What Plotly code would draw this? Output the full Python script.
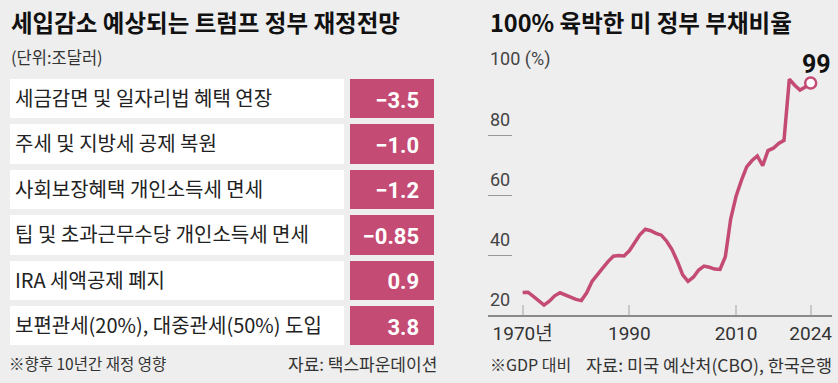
import plotly.graph_objects as go

# ---------------- data ----------------
items = ["세금감면 및 일자리법 혜택 연장", "주세 및 지방세 공제 복원", "사회보장혜택 개인소득세 면세",
         "팁 및 초과근무수당 개인소득세 면세", "IRA 세액공제 폐지", "보편관세(20%), 대중관세(50%) 도입"]
impact = [-3.5, -1.0, -1.2, -0.85, 0.9, 3.8]

years = list(range(1970, 2025))
debt = [27.5, 27.6, 26.2, 24.6, 23.3, 24.6, 26.4, 27.4, 26.6, 25.7,
        25.2, 24.8, 27.4, 31.2, 33.6, 35.6, 37.8, 39.6, 39.8, 39.7,
        41.4, 44.2, 46.8, 48.6, 48.1, 47.2, 46.6, 44.6, 41.8, 37.9,
        33.4, 31.2, 32.6, 35.0, 36.3, 35.9, 35.3, 35.2, 39.4, 52.0,
        59.5, 64.8, 69.4, 71.5, 73.0, 69.8, 74.8, 75.6, 77.2, 78.2,
        98.6, 96.6, 95.0, 96.0, 97.3]
last_label = "99"
x_tickvals = [1970, 1990, 2010, 2024]
x_ticktext = ["1970년", "1990", "2010", "2024"]
y_tickvals = [100, 80, 60, 40, 20]
y_ticktext = ["100 (%)", "80", "60", "40", "20"]

# ---------------- style ----------------
W, H = 838, 383
BG = "#eeeeee"
PINK = "#c44b73"
KFONT = "Noto Sans CJK KR, sans-serif"
NFONT = "Liberation Sans Narrow, Roboto, Noto Sans CJK KR, sans-serif"
CLEAR = "rgba(0,0,0,0)"


def px(x):
    return x / W


def py(y):
    return (H - y) / H


def fmt(v):
    s = f"{v:.2f}"
    if s.endswith("0"):
        s = s[:-1]
    return s.replace("-", "\u2212")


n = len(items)
fig = go.Figure()

# ---- left table: boxes ----
fig.add_trace(go.Table(
    domain=dict(x=[px(7), px(438)], y=[py(350), py(75)]),
    columnwidth=[341, 90],
    header=dict(values=["", ""], height=1, fill_color=BG, line=dict(color=BG, width=0)),
    cells=dict(
        values=[[""] * n, [""] * n],
        fill_color=[["white"] * n, [PINK] * n],
        line=dict(color=BG, width=6),
        height=45.4,
    ),
))
# ---- left table: text layer (vertically centred in the boxes) ----
fig.add_trace(go.Table(
    domain=dict(x=[px(7), px(438)], y=[py(357), py(82)]),
    columnwidth=[341, 90],
    header=dict(values=["", ""], height=1, fill_color=CLEAR, line=dict(color=CLEAR, width=0)),
    cells=dict(
        values=[items, [fmt(v) + "\u00a0\u2009" for v in impact]],
        fill_color=CLEAR,
        line=dict(color=CLEAR, width=0),
        align=["left", "right"],
        height=45.4,
        font=dict(family=[KFONT, NFONT], size=[20, 22], color=[["#222222"] * n, ["white"] * n],
                  weight=["normal", "bold"]),
    ),
))

# ---- right line chart ----
fig.add_trace(go.Scatter(x=years, y=debt, mode="lines", line=dict(color=PINK, width=3.5),
                         hoverinfo="skip", showlegend=False))
fig.add_trace(go.Scatter(x=[years[-1]], y=[debt[-1]], mode="markers",
                         marker=dict(size=11, color="white", line=dict(color=PINK, width=2.5)),
                         hoverinfo="skip", showlegend=False, cliponaxis=False))

annotations = []
# y labels (above short tick lines)
for v, t in zip(y_tickvals, y_ticktext):
    annotations.append(dict(x=px(488), xref="paper", y=v, yref="y", text=t, showarrow=False,
                            xanchor="left", yanchor="bottom", yshift=3,
                            font=dict(family=NFONT, size=18, color="#444444")))
annotations.append(dict(x=years[-1], y=debt[-1], xref="x", yref="y", text=f"<b>{last_label}</b>",
                        showarrow=False, xanchor="center", yanchor="bottom", xshift=6, yshift=2,
                        font=dict(family=NFONT, size=25, color="#111111")))

# titles and notes
annotations += [
    dict(x=px(9), y=py(22), text="<b>세입감소 예상되는 트럼프 정부 재정전망</b>", xanchor="left", yanchor="middle",
         font=dict(family=KFONT, size=23.5, color="#111111")),
    dict(x=px(9), y=py(57), text="(단위:조달러)", xanchor="left", yanchor="middle",
         font=dict(family=KFONT, size=16.5, color="#333333")),
    dict(x=px(7), y=py(363), text="※향후 10년간 재정 영향", xanchor="left", yanchor="middle",
         font=dict(family=KFONT, size=15.5, color="#333333")),
    dict(x=px(439), y=py(363), text="자료: 택스파운데이션", xanchor="right", yanchor="middle",
         font=dict(family=KFONT, size=17, color="#333333")),
    dict(x=px(488), y=py(22), text="<b>100% 육박한 미 정부 부채비율</b>", xanchor="left", yanchor="middle",
         font=dict(family=KFONT, size=23.5, color="#111111")),
    dict(x=px(488), y=py(364), text="※GDP 대비", xanchor="left", yanchor="middle",
         font=dict(family=KFONT, size=16, color="#333333")),
    dict(x=px(834), y=py(364), text="자료: 미국 예산처(CBO), 한국은행", xanchor="right", yanchor="middle",
         font=dict(family=KFONT, size=17.5, color="#333333")),
]
for a in annotations[-7:]:
    a.update(xref="paper", yref="paper", showarrow=False)

fig.update_layout(
    width=W, height=H,
    margin=dict(l=0, r=0, t=0, b=0),
    paper_bgcolor=BG, plot_bgcolor=BG,
    showlegend=False,
    annotations=annotations,
    xaxis=dict(domain=[px(488), px(832)], range=[1963.5, 2028.0],
               tickvals=x_tickvals, ticktext=x_ticktext, ticks="inside", ticklen=10,
               tickcolor="#c8c8c8", tickwidth=1.5,
               showline=True, linecolor="#8a8a8a", linewidth=2,
               showgrid=False, zeroline=False,
               tickfont=dict(family=NFONT, size=19, color="#333333")),
    yaxis=dict(domain=[py(315), py(75)], range=[20, 100],
               tickvals=[v for v in y_tickvals if v != 20], ticks="inside", ticklen=24,
               tickcolor="#999999", tickwidth=1, showticklabels=False,
               showline=False, showgrid=False, zeroline=False),
)

fig.write_html("out.html", config={"displayModeBar": False},
               post_script="document.body.style.margin='0px';")
